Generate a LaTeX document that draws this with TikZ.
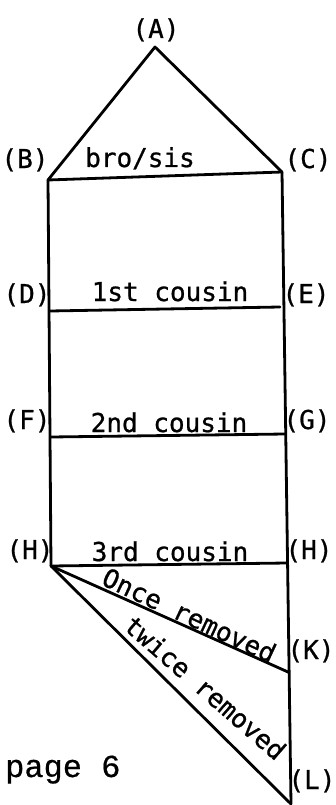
\documentclass[tikz,border=0pt]{standalone}
\usepackage{fontspec}
\newfontfamily\lblfont[FakeBold=0.8]{DejaVu Sans Mono}
\newfontfamily\pagefont[FakeBold=0.6]{Liberation Mono}
\begin{document}
\begin{tikzpicture}[x=1pt,y=-1pt,
  edge/.style={line width=2.8pt, line cap=round, line join=round},
  lbl/.style={font=\lblfont\fontsize{26}{30}\selectfont, inner sep=0pt, anchor=base},
  pg/.style={font=\pagefont\fontsize{32}{36}\selectfont, inner sep=0pt, anchor=base west}]
\useasboundingbox (0,0) rectangle (335,805);
% corner points
\coordinate (A) at (155,47);
\coordinate (B) at (48,180);
\coordinate (C) at (282,172);
\coordinate (D) at (50,311);
\coordinate (E) at (280,307);
\coordinate (F) at (51,437);
\coordinate (G) at (285,434);
\coordinate (H) at (51,566);
\coordinate (Hr) at (287,563);
\coordinate (K) at (288,672);
\coordinate (L) at (291,804);
% connectors
\draw[edge] (B) -- (A) -- (C);
\draw[edge] (B) -- (C);
\draw[edge] (B) -- (H);
\draw[edge] (C) -- (L);
\draw[edge] (D) -- (E);
\draw[edge] (F) -- (G);
\draw[edge] (H) -- (Hr);
\draw[edge] (H) -- (K);
\draw[edge] (H) -- (L);
% labels
\node[lbl] (lA) at (156,38) {(A)};
\node[lbl] (lB) at (25,168) {(B)};
\node[lbl] (lC) at (308,168) {(C)};
\node[lbl] (lD) at (27,303) {(D)};
\node[lbl] (lE) at (306,303) {(E)};
\node[lbl] (lF) at (27,429) {(F)};
\node[lbl] (lG) at (307,429) {(G)};
\node[lbl] (lH) at (30,559) {(H)};
\node[lbl] (lHr) at (309,559) {(H)};
\node[lbl] (lK) at (311,659) {(K)};
\node[lbl] (lL) at (312,789) {(L)};
\node[lbl] (bs) at (140,167) {bro/sis};
\node[lbl] (c1) at (170,301) {1st cousin};
\node[lbl] (c2) at (169,432) {2nd cousin};
\node[lbl] (c3) at (170,561) {3rd cousin};
\node[lbl, anchor=base west, rotate=-25] (once) at (100,584) {Once removed};
\node[lbl, anchor=base west, rotate=-41] (twice) at (122,628) {twice removed};
\node[pg] (page) at (5,777) {page 6};
\end{tikzpicture}
\end{document}
